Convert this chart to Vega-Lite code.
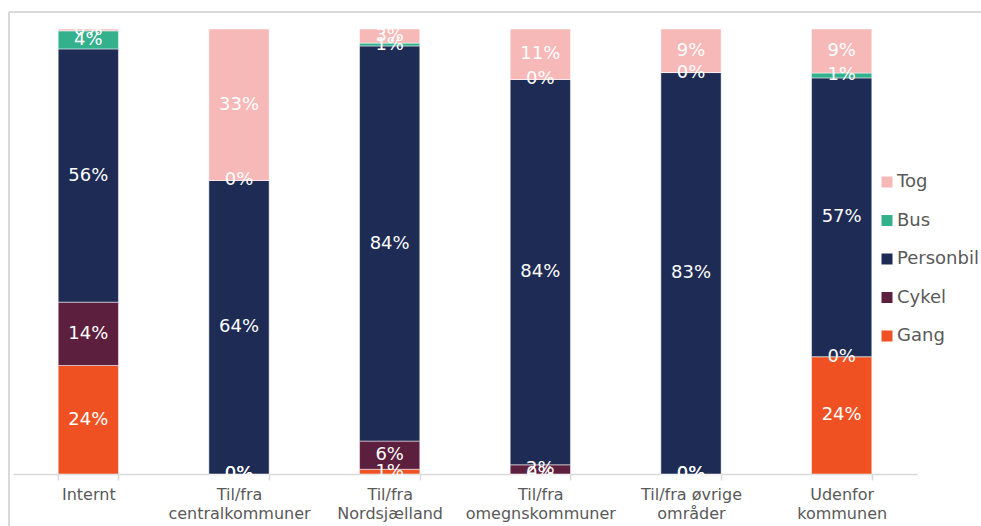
{
  "$schema": "https://vega.github.io/schema/vega-lite/v6.json",
  "width": 972,
  "height": 514,
  "autosize": {"type": "none"},
  "padding": {"left": 9, "top": 12, "right": 0, "bottom": 0},
  "background": "white",
  "config": {
    "font": "DejaVu Sans",
    "view": {"stroke": "#D9D9D9", "strokeWidth": 2, "strokeDash": [972, 1486, 514, 0]}
  },
  "data": {
    "values": [
      {"omraade": "Internt", "transportform": "Gang", "andel": 0.24},
      {"omraade": "Internt", "transportform": "Cykel", "andel": 0.14},
      {"omraade": "Internt", "transportform": "Personbil", "andel": 0.56},
      {"omraade": "Internt", "transportform": "Bus", "andel": 0.04},
      {"omraade": "Internt", "transportform": "Tog", "andel": 0.004},
      {"omraade": "Til/fra centralkommuner", "transportform": "Gang", "andel": 0},
      {"omraade": "Til/fra centralkommuner", "transportform": "Cykel", "andel": 0},
      {"omraade": "Til/fra centralkommuner", "transportform": "Personbil", "andel": 0.64},
      {"omraade": "Til/fra centralkommuner", "transportform": "Bus", "andel": 0},
      {"omraade": "Til/fra centralkommuner", "transportform": "Tog", "andel": 0.33},
      {"omraade": "Til/fra Nordsjælland", "transportform": "Gang", "andel": 0.01},
      {"omraade": "Til/fra Nordsjælland", "transportform": "Cykel", "andel": 0.06},
      {"omraade": "Til/fra Nordsjælland", "transportform": "Personbil", "andel": 0.84},
      {"omraade": "Til/fra Nordsjælland", "transportform": "Bus", "andel": 0.006},
      {"omraade": "Til/fra Nordsjælland", "transportform": "Tog", "andel": 0.03},
      {"omraade": "Til/fra omegnskommuner", "transportform": "Gang", "andel": 0},
      {"omraade": "Til/fra omegnskommuner", "transportform": "Cykel", "andel": 0.02},
      {"omraade": "Til/fra omegnskommuner", "transportform": "Personbil", "andel": 0.84},
      {"omraade": "Til/fra omegnskommuner", "transportform": "Bus", "andel": 0},
      {"omraade": "Til/fra omegnskommuner", "transportform": "Tog", "andel": 0.11},
      {"omraade": "Til/fra øvrige områder", "transportform": "Gang", "andel": 0},
      {"omraade": "Til/fra øvrige områder", "transportform": "Cykel", "andel": 0},
      {"omraade": "Til/fra øvrige områder", "transportform": "Personbil", "andel": 0.83},
      {"omraade": "Til/fra øvrige områder", "transportform": "Bus", "andel": 0},
      {"omraade": "Til/fra øvrige områder", "transportform": "Tog", "andel": 0.09},
      {"omraade": "Udenfor kommunen", "transportform": "Gang", "andel": 0.24},
      {"omraade": "Udenfor kommunen", "transportform": "Cykel", "andel": 0},
      {"omraade": "Udenfor kommunen", "transportform": "Personbil", "andel": 0.57},
      {"omraade": "Udenfor kommunen", "transportform": "Bus", "andel": 0.01},
      {"omraade": "Udenfor kommunen", "transportform": "Tog", "andel": 0.09}
    ]
  },
  "transform": [
    {"calculate": "indexof(['Tog', 'Bus', 'Personbil', 'Cykel', 'Gang'], datum.transportform)", "as": "stabelorden"}
  ],
  "encoding": {
    "x": {
      "field": "omraade",
      "type": "nominal",
      "sort": null,
      "scale": {"range": [4, 908], "paddingInner": 0.6, "paddingOuter": 0.3},
      "axis": {
        "title": null,
        "labelAngle": 0,
        "offset": -52,
        "domainColor": "#D9D9D9",
        "domainWidth": 1.5,
        "tickColor": "#D9D9D9",
        "tickWidth": 1.5,
        "tickSize": 6,
        "tickBand": "extent",
        "labelColor": "#595959",
        "labelFont": "DejaVu Sans",
        "labelFontSize": 16,
        "labelPadding": 6,
        "labelLineHeight": 19,
        "labelExpr": "datum.label == 'Til/fra øvrige områder' ? ['Til/fra øvrige', 'områder'] : split(datum.label, ' ')"
      }
    },
    "order": {"field": "stabelorden", "type": "quantitative"}
  },
  "layer": [
    {
      "mark": {"type": "bar", "stroke": "white", "strokeWidth": 0.5},
      "encoding": {
        "y": {
          "field": "andel",
          "type": "quantitative",
          "stack": "normalize",
          "scale": {"range": [17, 462]},
          "axis": null
        },
        "color": {
          "field": "transportform",
          "type": "nominal",
          "sort": ["Tog", "Bus", "Personbil", "Cykel", "Gang"],
          "scale": {
            "domain": ["Tog", "Bus", "Personbil", "Cykel", "Gang"],
            "range": ["#F7B8B8", "#33B08C", "#1E2B54", "#5D1F3E", "#F05123"]
          },
          "legend": {
            "title": null,
            "orient": "none",
            "legendX": 869,
            "legendY": 161,
            "padding": 0,
            "symbolType": "square",
            "symbolSize": 121,
            "symbolStrokeWidth": 0,
            "labelFont": "DejaVu Sans",
            "labelFontSize": 18,
            "labelColor": "#595959",
            "labelOffset": 1,
            "rowPadding": 20.5
          }
        }
      }
    },
    {
      "mark": {"type": "text", "fontSize": 18, "baseline": "middle", "font": "DejaVu Sans"},
      "encoding": {
        "y": {
          "field": "andel",
          "type": "quantitative",
          "stack": "normalize",
          "bandPosition": 0.5
        },
        "color": {
          "field": "transportform",
          "type": "nominal",
          "sort": ["Tog", "Bus", "Personbil", "Cykel", "Gang"],
          "scale": {
            "domain": ["Tog", "Bus", "Personbil", "Cykel", "Gang"],
            "range": ["#FFFFFF", "#FFFFFF", "#FFFFFF", "#FFFFFF", "#FFFFFF"]
          },
          "legend": null
        },
        "text": {"field": "andel", "type": "quantitative", "format": ".0%"}
      }
    }
  ],
  "resolve": {"scale": {"color": "independent"}}
}
